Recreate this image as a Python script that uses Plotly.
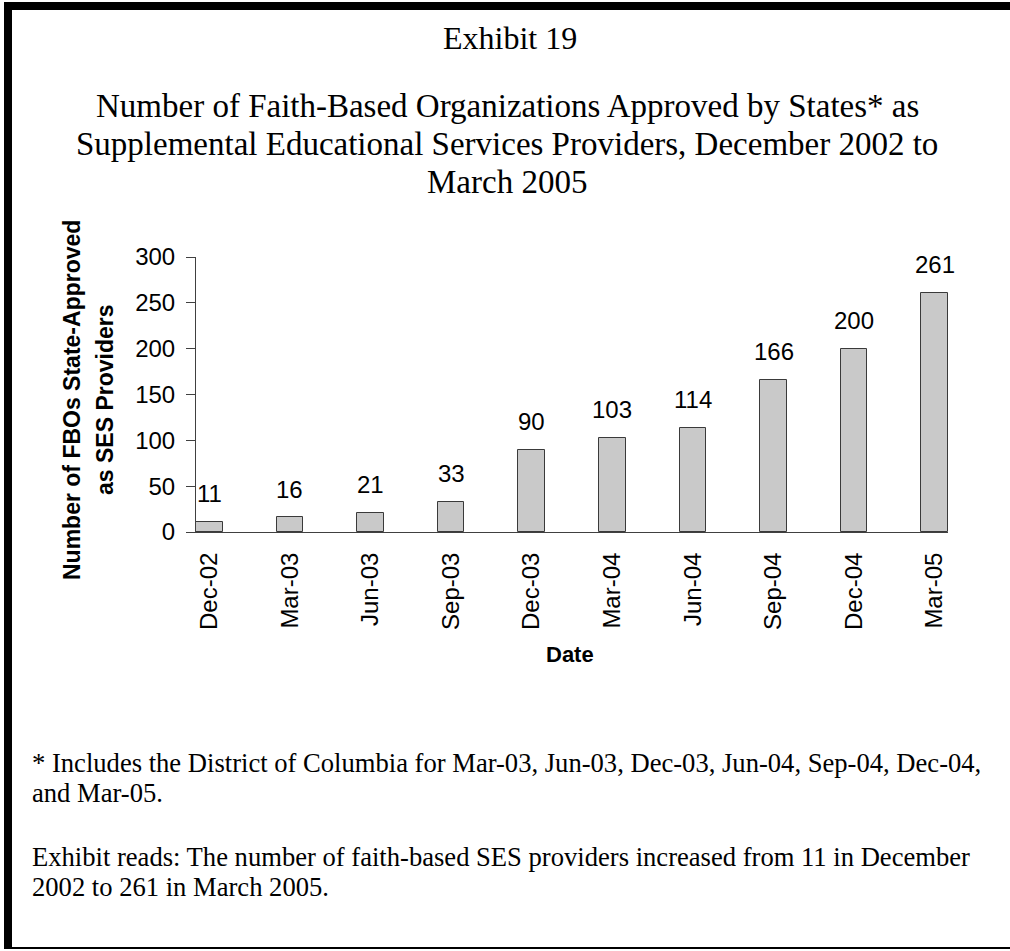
import plotly.graph_objects as go

# Faith-based SES providers approved by states, by quarter
dates = ["Dec-02", "Mar-03", "Jun-03", "Sep-03", "Dec-03",
         "Mar-04", "Jun-04", "Sep-04", "Dec-04", "Mar-05"]
providers = [11, 16, 21, 33, 90, 103, 114, 166, 200, 261]
y_ticks = [0, 50, 100, 150, 200, 250, 300]

W, H = 1010, 951
PL, PR, PT, PB = 196, 948, 257, 532  # plot area in pixels


def px(x):
    return (x - PL) / (PR - PL)


def py(y):
    return (PB - y) / (PB - PT)


SERIF = "Liberation Serif, Times New Roman, serif"
SANS = "Liberation Sans, Arial, sans-serif"

fig = go.Figure(go.Bar(
    x=list(range(len(dates))),
    y=providers,
    width=0.33,
    marker=dict(color="#c9c9c9", line=dict(color="#3a3a3a", width=1)),
    hoverinfo="x+y",
))

annotations = []

# value labels above each bar
for i, v in enumerate(providers):
    annotations.append(dict(
        x=i, y=v, xref="x", yref="y", text=str(v), showarrow=False,
        yanchor="middle", yshift=28,
        font=dict(family=SANS, size=24, color="black"),
    ))


def line(text, x, y, size, family, anchor="center", angle=0, bold=False):
    t = f"<b>{text}</b>" if bold else text
    annotations.append(dict(
        x=px(x), y=py(y), xref="paper", yref="paper", text=t,
        showarrow=False, xanchor=anchor, yanchor="middle", textangle=angle,
        font=dict(family=family, size=size, color="black"),
    ))


# headings
line("Exhibit 19", 510, 38, 32, SERIF)
line("Number of Faith-Based Organizations Approved by States* as", 507, 106, 33, SERIF)
line("Supplemental Educational Services Providers, December 2002 to", 507, 144, 33, SERIF)
line("March 2005", 507, 182, 33, SERIF)

# axis titles
line("Number of FBOs State-Approved", 72, 400, 23, SANS, angle=-90, bold=True)
line("as SES Providers", 105, 400, 23, SANS, angle=-90, bold=True)
line("Date", 570, 654, 22, SANS, bold=True)

# notes
line("* Includes the District of Columbia for Mar-03, Jun-03, Dec-03, Jun-04, Sep-04, Dec-04,",
     30, 763, 26.6, SERIF, anchor="left")
line("and Mar-05.", 30, 793, 26.6, SERIF, anchor="left")
line("Exhibit reads: The number of faith-based SES providers increased from 11 in December",
     30, 857, 26.6, SERIF, anchor="left")
line("2002 to 261 in March 2005.", 30, 887, 26.6, SERIF, anchor="left")

# frame around the exhibit
shapes = [
    dict(type="rect", xref="paper", yref="paper",
         x0=px(4), x1=px(12), y0=py(2), y1=py(949),
         fillcolor="black", line=dict(width=0), layer="above"),
    dict(type="rect", xref="paper", yref="paper",
         x0=px(4), x1=px(1012), y0=py(2), y1=py(10),
         fillcolor="black", line=dict(width=0), layer="above"),
    dict(type="rect", xref="paper", yref="paper",
         x0=px(4), x1=px(1012), y0=py(947), y1=py(949),
         fillcolor="black", line=dict(width=0), layer="above"),
]

fig.update_layout(
    width=W, height=H,
    margin=dict(l=PL, r=W - PR, t=PT, b=H - PB, pad=0),
    paper_bgcolor="white", plot_bgcolor="white",
    showlegend=False,
    annotations=annotations,
    shapes=shapes,
    bargap=0,
    xaxis=dict(
        type="linear",
        range=[-0.165, len(dates) - 1 + 0.165],
        tickmode="array",
        tickvals=list(range(len(dates))),
        ticktext=dates,
        tickangle=-90,
        ticks="",
        ticklabelstandoff=10,
        showgrid=False, zeroline=False,
        showline=True, linecolor="#404040", linewidth=1,
        tickfont=dict(family=SANS, size=24, color="black"),
        fixedrange=True,
    ),
    yaxis=dict(
        range=[0, 300],
        tickmode="array",
        tickvals=y_ticks,
        ticks="outside", ticklen=9, tickwidth=1, tickcolor="#404040",
        ticklabelstandoff=6,
        showgrid=False, zeroline=False,
        showline=True, linecolor="#404040", linewidth=1,
        tickfont=dict(family=SANS, size=24, color="black"),
        fixedrange=True,
    ),
)

fig.write_html("out.html")
